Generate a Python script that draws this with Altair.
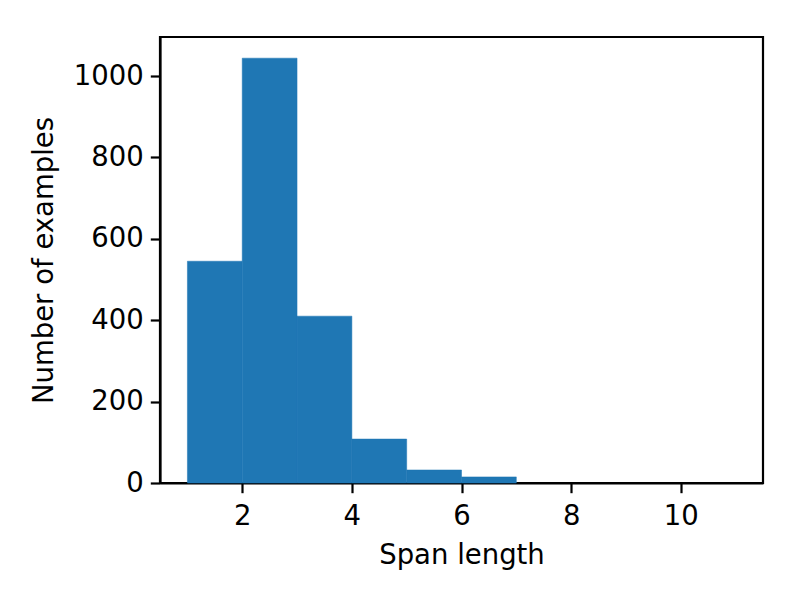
import altair as alt
import pandas as pd

bin_start = [1, 2, 3, 4, 5, 6, 7, 8, 9, 10]
bin_end = [2, 3, 4, 5, 6, 7, 8, 9, 10, 11]
counts = [545, 1044, 410, 108, 32, 15, 0, 0, 0, 0]

df = pd.DataFrame({"start": bin_start, "end": bin_end, "count": counts,
                   "base": [0] * len(counts)})

chart = alt.Chart(df).mark_bar(color="#1f77b4", stroke="#1f77b4", strokeWidth=0.5).encode(
    x=alt.X("start:Q", scale=alt.Scale(domain=[0.5, 11.5], nice=False, zero=False),
            axis=alt.Axis(values=[2, 4, 6, 8, 10], title="Span length", format="d")),
    x2="end:Q",
    y=alt.Y("count:Q", scale=alt.Scale(domain=[0, 1096], nice=False),
            axis=alt.Axis(values=[0, 200, 400, 600, 800, 1000], title="Number of examples",
                          format="d")),
    y2="base:Q",
).transform_filter(
    alt.datum.count > 0
).properties(
    width=603, height=446,
    autosize=alt.AutoSizeParams(type="none"),
    padding={"left": 152, "top": 29, "right": 20, "bottom": 110},
).configure_view(
    stroke="black", strokeWidth=2.2
).configure_axis(
    grid=False,
    domainColor="black", domainWidth=2.2,
    tickColor="black", tickWidth=2.2, tickSize=9.7,
    labelFont="DejaVu Sans", labelFontSize=27.5, labelColor="black", labelPadding=7,
    titleFont="DejaVu Sans", titleFontSize=27.5, titleFontWeight="normal", titleColor="black",
).configure_axisX(titlePadding=11, labelPadding=10).configure_axisY(titlePadding=15)

chart.save("out.html", embed_options={"renderer": "svg", "actions": False})
